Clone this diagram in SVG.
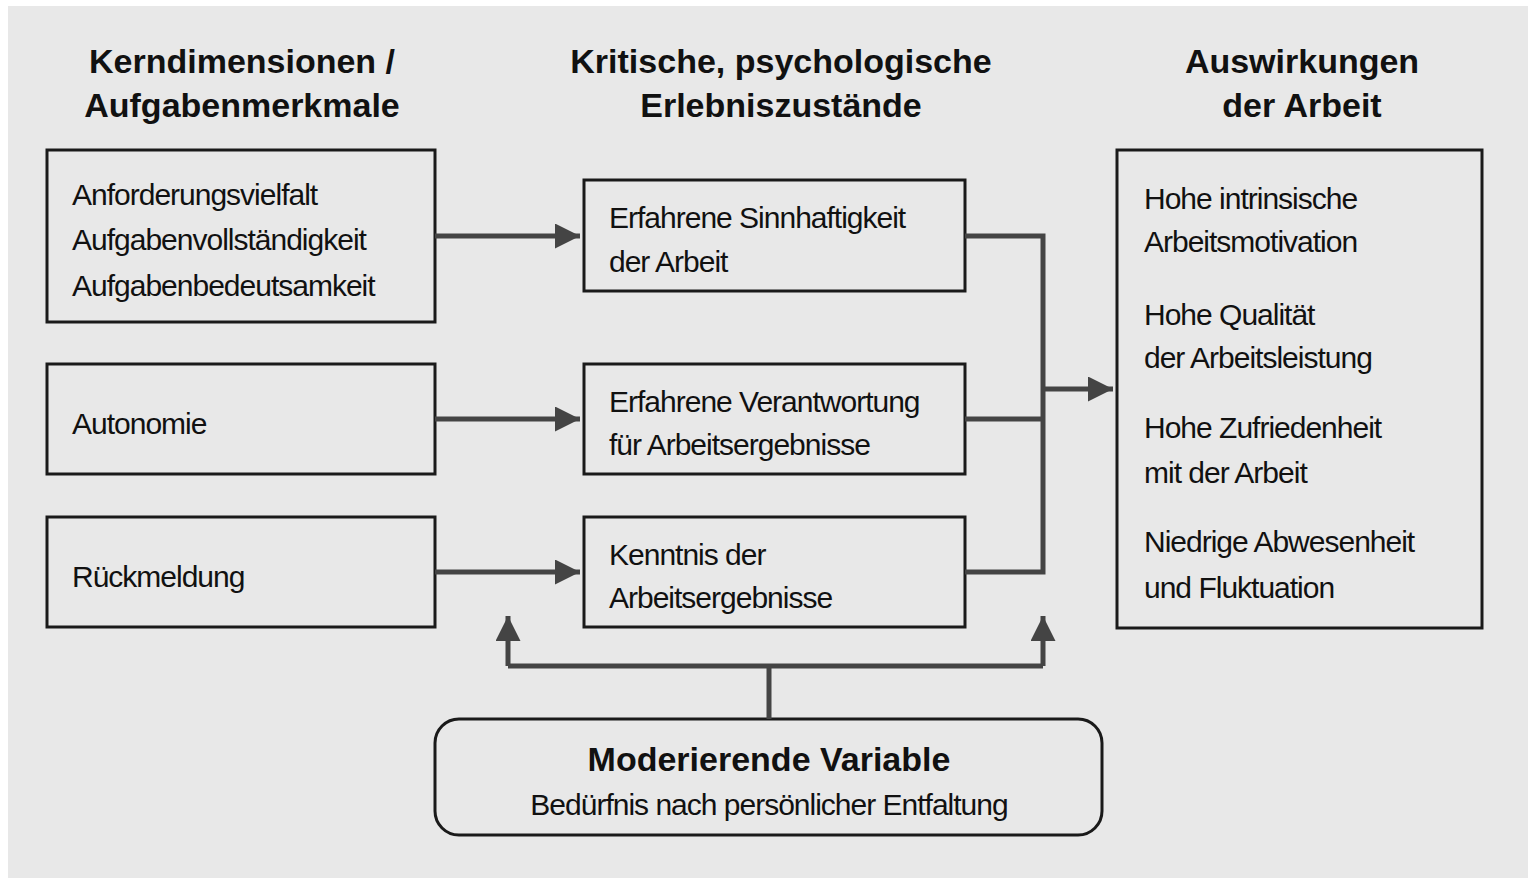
<svg xmlns="http://www.w3.org/2000/svg" width="1534" height="884" viewBox="0 0 1534 884">
<defs>
<style>
.b{fill:none;stroke:#1a1a1a;stroke-width:3}
.c{fill:none;stroke:#444;stroke-width:5}
.h{font-family:"Liberation Sans",Arial,sans-serif;font-weight:bold;font-size:34px;fill:#111;text-anchor:middle}
.t{font-family:"Liberation Sans",Arial,sans-serif;font-size:30px;fill:#111;letter-spacing:-1px}
</style>
<marker id="a" viewBox="0 0 10 10" refX="10" refY="5" markerWidth="5" markerHeight="5" orient="auto" markerUnits="strokeWidth"><path d="M0,0L10,5L0,10z" fill="#444"/></marker>
</defs>
<rect width="1534" height="884" fill="#fff"/>
<rect x="8" y="6" width="1520" height="872" fill="#e8e8e8"/>
<g id="headers">
<text class="h" x="242" y="73">Kerndimensionen /</text>
<text class="h" x="242" y="117">Aufgabenmerkmale</text>
<text class="h" x="781" y="73">Kritische, psychologische</text>
<text class="h" x="781" y="117">Erlebniszustände</text>
<text class="h" x="1302" y="73">Auswirkungen</text>
<text class="h" x="1302" y="117">der Arbeit</text>
</g>
<g id="k1"><rect class="b" x="47" y="150" width="388" height="172"/>
<text class="t" x="72" y="205">Anforderungsvielfalt</text><text class="t" x="72" y="250">Aufgabenvollständigkeit</text><text class="t" x="72" y="296">Aufgabenbedeutsamkeit</text></g>
<g id="k2"><rect class="b" x="47" y="364" width="388" height="110"/><text class="t" x="72" y="434">Autonomie</text></g>
<g id="k3"><rect class="b" x="47" y="517" width="388" height="110"/><text class="t" x="72" y="587">Rückmeldung</text></g>
<g id="e1"><rect class="b" x="584" y="180" width="381" height="111"/><text class="t" x="609" y="228">Erfahrene  Sinnhaftigkeit</text><text class="t" x="609" y="272">der Arbeit</text></g>
<g id="e2"><rect class="b" x="584" y="364" width="381" height="110"/><text class="t" x="609" y="412">Erfahrene  Verantwortung</text><text class="t" x="609" y="455">für Arbeitsergebnisse</text></g>
<g id="e3"><rect class="b" x="584" y="517" width="381" height="110"/><text class="t" x="609" y="565">Kenntnis  der</text><text class="t" x="609" y="608">Arbeitsergebnisse</text></g>
<g id="a1"><rect class="b" x="1117" y="150" width="365" height="478"/>
<text class="t" x="1144" y="209">Hohe intrinsische</text><text class="t" x="1144" y="252">Arbeitsmotivation</text>
<text class="t" x="1144" y="325">Hohe Qualität</text><text class="t" x="1144" y="368">der Arbeitsleistung</text>
<text class="t" x="1144" y="438">Hohe Zufriedenheit</text><text class="t" x="1144" y="483">mit der Arbeit</text>
<text class="t" x="1144" y="552">Niedrige Abwesenheit</text><text class="t" x="1144" y="598">und Fluktuation</text></g>
<g id="mod"><rect class="b" x="435" y="719" width="667" height="116" rx="24"/>
<text class="h" x="769" y="771">Moderierende Variable</text>
<text class="t" x="769" y="815" text-anchor="middle">Bedürfnis  nach  persönlicher  Entfaltung</text></g>
<g id="connectors">
<path class="c" d="M435,236H580" marker-end="url(#a)"/>
<path class="c" d="M435,419H580" marker-end="url(#a)"/>
<path class="c" d="M435,572H580" marker-end="url(#a)"/>
<path class="c" d="M965,236H1043V572H965M965,419H1043"/>
<path class="c" d="M1043,389H1113" marker-end="url(#a)"/>
<path class="c" d="M769,719V666M508,666H1043"/>
<path class="c" d="M508,666V616" marker-end="url(#a)"/>
<path class="c" d="M1043,666V616" marker-end="url(#a)"/>
</g>
</svg>
